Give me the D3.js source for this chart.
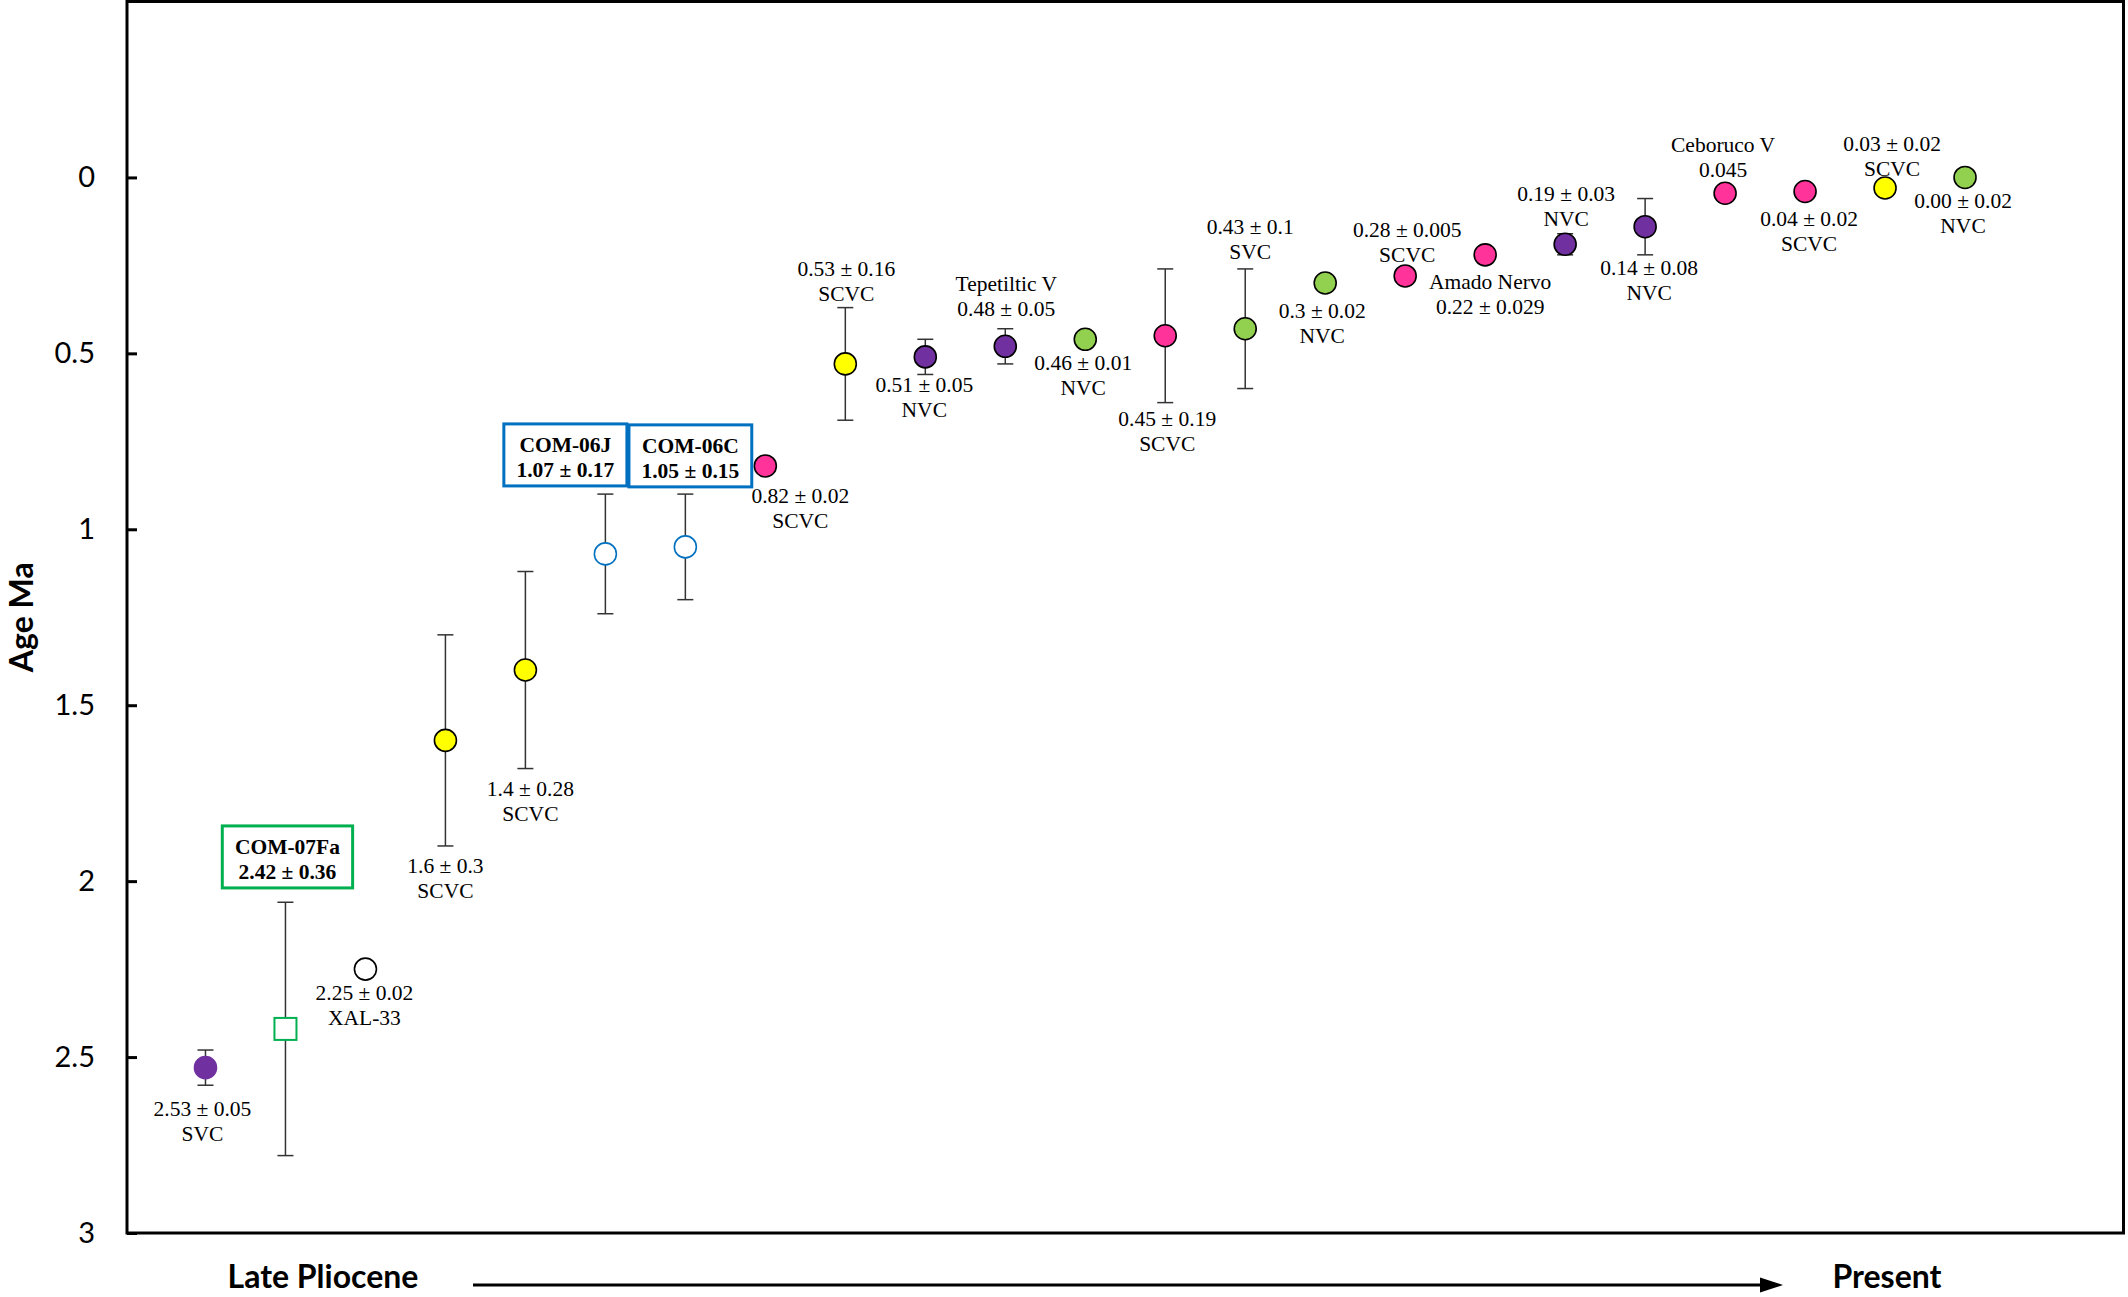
<!DOCTYPE html>
<html><head><meta charset="utf-8">
<script src="https://cdn.jsdelivr.net/npm/d3@7"></script>
<style>body{margin:0;background:#fff}svg{display:block}</style>
</head><body>
<svg id="chart" width="2128" height="1297"></svg>
<script>
// ---------- data ----------
const sampleIndex = d3.range(1, 24);
const ages      = [2.53, 2.42, 2.25, 1.6, 1.4, 1.07, 1.05, 0.82, 0.53, 0.51, 0.48, 0.46, 0.45, 0.43, 0.30, 0.28, 0.22, 0.19, 0.14, 0.045, 0.04, 0.03, 0.00];
const errBars   = [0.05, 0.36, 0, 0.3, 0.28, 0.17, 0.15, 0, 0.16, 0.05, 0.05, 0, 0.19, 0.17, 0, 0, 0, 0.03, 0.08, 0, 0, 0, 0];
const fills     = ["#7030A0","#FFFFFF","#FFFFFF","#FFFF00","#FFFF00","#FFFFFF","#FFFFFF","#FF3399","#FFFF00","#7030A0","#7030A0","#92D050","#FF3399","#92D050","#92D050","#FF3399","#FF3399","#7030A0","#7030A0","#FF3399","#FF3399","#FFFF00","#92D050"];
const strokes   = ["#7030A0","#00B050","#000000","#000000","#000000","#0070C0","#0070C0","#000000","#000000","#000000","#000000","#000000","#000000","#000000","#000000","#000000","#000000","#000000","#000000","#000000","#000000","#000000","#000000"];
const shapes    = ["circle","square","circle","circle","circle","circle","circle","circle","circle","circle","circle","circle","circle","circle","circle","circle","circle","circle","circle","circle","circle","circle","circle"];
const labelLine1 = ["2.53 ± 0.05","COM-07Fa","2.25 ± 0.02","1.6 ± 0.3","1.4 ± 0.28","COM-06J","COM-06C","0.82 ± 0.02","0.53 ± 0.16","0.51 ± 0.05","Tepetiltic V","0.46 ± 0.01","0.45 ± 0.19","0.43 ± 0.1","0.3 ± 0.02","0.28 ± 0.005","Amado Nervo","0.19 ± 0.03","0.14 ± 0.08","Ceboruco V","0.04 ± 0.02","0.03 ± 0.02","0.00 ± 0.02"];
const labelLine2 = ["SVC","2.42 ± 0.36","XAL-33","SCVC","SCVC","1.07 ± 0.17","1.05 ± 0.15","SCVC","SCVC","NVC","0.48 ± 0.05","NVC","SCVC","SVC","NVC","SCVC","0.22 ± 0.029","NVC","NVC","0.045","SCVC","SCVC","NVC"];
const boxColors  = [null,"#00B050",null,null,null,"#0070C0","#0070C0",null,null,null,null,null,null,null,null,null,null,null,null,null,null,null,null];
const yTicks = [0, 0.5, 1, 1.5, 2, 2.5, 3];
const yTickLabels = ["0","0.5","1","1.5","2","2.5","3"];
const yTitle = "Age Ma";
const startLabel = "Late Pliocene";
const endLabel = "Present";

// ---------- layout (label offsets in px from marker centre) ----------
const labelDx = [-3, 2, -1, 0, 5, -40, 5, 35, 1, -1, 1, -2, 2, 5, -3, 2, 5, 1, 4, -2, 4, 7, -2];
const labelDy = [48, -141, 31, 133, 126, -68, -60, 37, -88, 35, -55, 31, 90, -95, 35, -39, 34, -43, 48, -41, 34, -37, 31];

const svg = d3.select("#chart");
const plot = {left: 127, right: 2123.5, top: 1.5, bottom: 1233};

const x = d3.scaleLinear().domain([0, 25]).range([125.5, 2125]);
const y = d3.scaleLinear().domain([-0.5, 3]).range([plot.top, plot.bottom]);

const serif = "'Liberation Serif','Times New Roman',serif";
const sans = "Lato,'Open Sans',sans-serif";

// frame
svg.append("rect")
  .attr("x", plot.left).attr("y", plot.top)
  .attr("width", plot.right - plot.left).attr("height", plot.bottom - plot.top)
  .attr("fill", "none").attr("stroke", "#000").attr("stroke-width", 3);

// y axis
const yAxis = d3.axisLeft(y).tickValues(yTicks)
  .tickFormat((d, i) => yTickLabels[i])
  .tickSizeInner(-10).tickSizeOuter(0).tickPadding(32);
const ga = svg.append("g").attr("transform", `translate(${plot.left},0)`).call(yAxis);
ga.select(".domain").remove();
ga.selectAll(".tick line").attr("stroke", "#000").attr("stroke-width", 3);
ga.selectAll(".tick text").attr("font-family", sans).attr("font-size", 29).attr("fill", "#000");

// y title
svg.append("text")
  .attr("transform", `translate(33,${y(1.25)}) rotate(-90)`)
  .attr("text-anchor", "middle")
  .attr("font-family", sans).attr("font-weight", "bold").attr("font-size", 32)
  .text(yTitle);

// bottom time arrow
svg.append("text").attr("x", 323).attr("y", 1288).attr("text-anchor", "middle")
  .attr("font-family", sans).attr("font-weight", "bold").attr("font-size", 32).text(startLabel);
svg.append("text").attr("x", 1887).attr("y", 1288).attr("text-anchor", "middle")
  .attr("font-family", sans).attr("font-weight", "bold").attr("font-size", 32).text(endLabel);
svg.append("line").attr("x1", 473).attr("x2", 1762).attr("y1", 1285).attr("y2", 1285)
  .attr("stroke", "#000").attr("stroke-width", 3);
svg.append("path").attr("d", "M1760,1277.5 L1783,1285 L1760,1292.5 Z").attr("fill", "#000");

const data = sampleIndex.map((s, i) => ({
  s, age: ages[i], err: errBars[i], fill: fills[i], stroke: strokes[i], shape: shapes[i],
  l1: labelLine1[i], l2: labelLine2[i], box: boxColors[i], dx: labelDx[i], dy: labelDy[i]
}));

// error bars
const eb = svg.append("g").selectAll("g").data(data.filter(d => d.err > 0)).join("g");
eb.append("line")
  .attr("x1", d => x(d.s)).attr("x2", d => x(d.s))
  .attr("y1", d => y(d.age - d.err)).attr("y2", d => y(d.age + d.err))
  .attr("stroke", "#333").attr("stroke-width", 1.5);
eb.append("line")
  .attr("x1", d => x(d.s) - 8).attr("x2", d => x(d.s) + 8)
  .attr("y1", d => y(d.age - d.err)).attr("y2", d => y(d.age - d.err))
  .attr("stroke", "#333").attr("stroke-width", 1.5);
eb.append("line")
  .attr("x1", d => x(d.s) - 8).attr("x2", d => x(d.s) + 8)
  .attr("y1", d => y(d.age + d.err)).attr("y2", d => y(d.age + d.err))
  .attr("stroke", "#333").attr("stroke-width", 1.5);

// markers
const R = 11;
const mk = svg.append("g");
mk.selectAll("circle").data(data.filter(d => d.shape === "circle")).join("circle")
  .attr("cx", d => x(d.s)).attr("cy", d => y(d.age)).attr("r", R)
  .attr("fill", d => d.fill).attr("stroke", d => d.stroke).attr("stroke-width", 1.6);
mk.selectAll("rect").data(data.filter(d => d.shape === "square")).join("rect")
  .attr("x", d => x(d.s) - R).attr("y", d => y(d.age) - R)
  .attr("width", 2 * R).attr("height", 2 * R)
  .attr("fill", d => d.fill).attr("stroke", d => d.stroke).attr("stroke-width", 2);

// plain labels
const lab = svg.append("g").attr("font-family", serif).attr("font-size", 21.5).attr("fill", "#000");
data.filter(d => !d.box).forEach(d => {
  const t = lab.append("text").attr("text-anchor", "middle");
  t.append("tspan").attr("x", x(d.s) + d.dx).attr("y", y(d.age) + d.dy).text(d.l1);
  t.append("tspan").attr("x", x(d.s) + d.dx).attr("y", y(d.age) + d.dy + 25).text(d.l2);
});

// boxed labels
data.filter(d => d.box).forEach(d => {
  const g = svg.append("g");
  const cx = x(d.s) + d.dx;
  const bottom = y(d.age) + d.dy;
  const top = bottom - 62;
  const t = g.append("text").attr("text-anchor", "middle")
    .attr("font-family", serif).attr("font-weight", "bold").attr("font-size", 21.5).attr("fill", "#000");
  t.append("tspan").attr("x", cx).attr("y", top + 28).text(d.l1);
  t.append("tspan").attr("x", cx).attr("y", top + 53).text(d.l2);
  const w = t.node().getBBox().width + 25;
  g.insert("rect", "text").attr("x", cx - w / 2).attr("y", top).attr("width", w).attr("height", 62)
    .attr("fill", "#fff").attr("stroke", d.box).attr("stroke-width", 3);
});
</script>
</body></html>
